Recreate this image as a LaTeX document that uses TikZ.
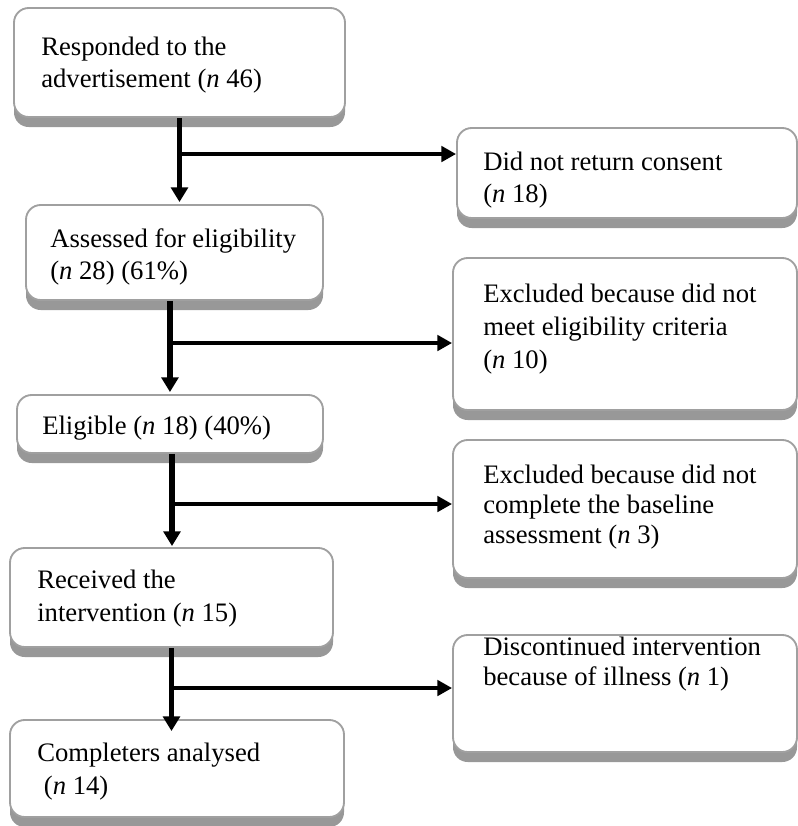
\documentclass[tikz,border=0pt]{standalone}
\usepackage{fontspec}
\setmainfont{Liberation Serif}
\usetikzlibrary{arrows.meta,fit,shadows}
\definecolor{boxborder}{RGB}{160,160,160}
\definecolor{boxshadow}{RGB}{152,152,152}
\tikzset{
  box/.style={draw=boxborder, line width=1.4pt, fill=white, rounded corners=11pt,
    inner sep=0pt,
    drop shadow={shadow xshift=0pt, shadow yshift=-7.5pt, fill=boxshadow, opacity=1}},
  txt/.style={anchor=base west, inner sep=0pt, font=\fontsize{20pt}{24pt}\selectfont},
  vline/.style={line width=3.8pt, -{Triangle[length=11pt,width=12.5pt]}},
  hline/.style={line width=3pt, -{Triangle[length=11pt,width=11.5pt]}}
}
\newcommand{\lines}[1]{\begin{tabular}[t]{@{}l@{}}#1\end{tabular}}
\begin{document}
\begin{tikzpicture}[x=0.75pt,y=-0.75pt]
\useasboundingbox (0,0) rectangle (798,826);
% boxes
\node[box, fit={(14,8) (345,117)}] (a) {};
\node[box, fit={(457,128) (797,218)}] (b) {};
\node[box, fit={(26,205) (323,300)}] (c) {};
\node[box, fit={(453,258) (797,410)}] (d) {};
\node[box, fit={(17,395) (323,453)}] (e) {};
\node[box, fit={(453,440) (797,578)}] (f) {};
\node[box, fit={(10,548) (333,647)}] (g) {};
\node[box, fit={(453,635) (797,752)}] (h) {};
\node[box, fit={(10,720) (344,817)}] (i) {};
% texts
\node[txt] (at) at (41,55) {\lines{Responded to the\\advertisement (\textit{n} 46)}};
\node[txt] (bt) at (483,170) {\lines{Did not return consent\\(\textit{n} 18)}};
\node[txt] (ct) at (50,247) {\lines{Assessed for eligibility\\(\textit{n} 28) (61\%)}};
\node[txt, font=\fontsize{20pt}{24.75pt}\selectfont] (dt) at (483,302) {\lines{Excluded because did not\\meet eligibility criteria\\(\textit{n} 10)}};
\node[txt] (et) at (42,434) {\lines{Eligible (\textit{n} 18) (40\%)}};
\node[txt, font=\fontsize{20pt}{22.5pt}\selectfont] (ft) at (483,483) {\lines{Excluded because did not\\complete the baseline\\assessment (\textit{n} 3)}};
\node[txt, font=\fontsize{20pt}{25pt}\selectfont] (gt) at (37,588) {\lines{Received the\\intervention (\textit{n} 15)}};
\node[txt, font=\fontsize{20pt}{22.5pt}\selectfont] (ht) at (483,655) {\lines{Discontinued intervention\\because of illness (\textit{n} 1)}};
\node[txt, font=\fontsize{20pt}{25pt}\selectfont] (it) at (37,761) {\lines{Completers analysed\\\ (\textit{n} 14)}};
% junctions
\coordinate (j1) at (179,154);
\coordinate (j2) at (170,343);
\coordinate (j3) at (172,504);
\coordinate (j4) at (172,688);
% connectors
\draw[vline] (a.south) -- ([yshift=1.5pt]a.south |- c.north);
\draw[hline] (j1) -- (j1 -| b.west);
\draw[vline] ([xshift=-3.4pt]c.south) -- ([xshift=-3.4pt,yshift=1.5pt]c.south |- e.north);
\draw[hline] (j2) -- (j2 -| d.west);
\draw[vline] ([xshift=1.5pt]e.south) -- ([xshift=1.5pt,yshift=0.75pt]e.south |- g.north);
\draw[hline] (j3) -- (j3 -| f.west);
\draw[vline] (g.south) -- ([yshift=-9pt]g.south |- i.north);
\draw[hline] (j4) -- (j4 -| h.west);
\end{tikzpicture}
\end{document}
